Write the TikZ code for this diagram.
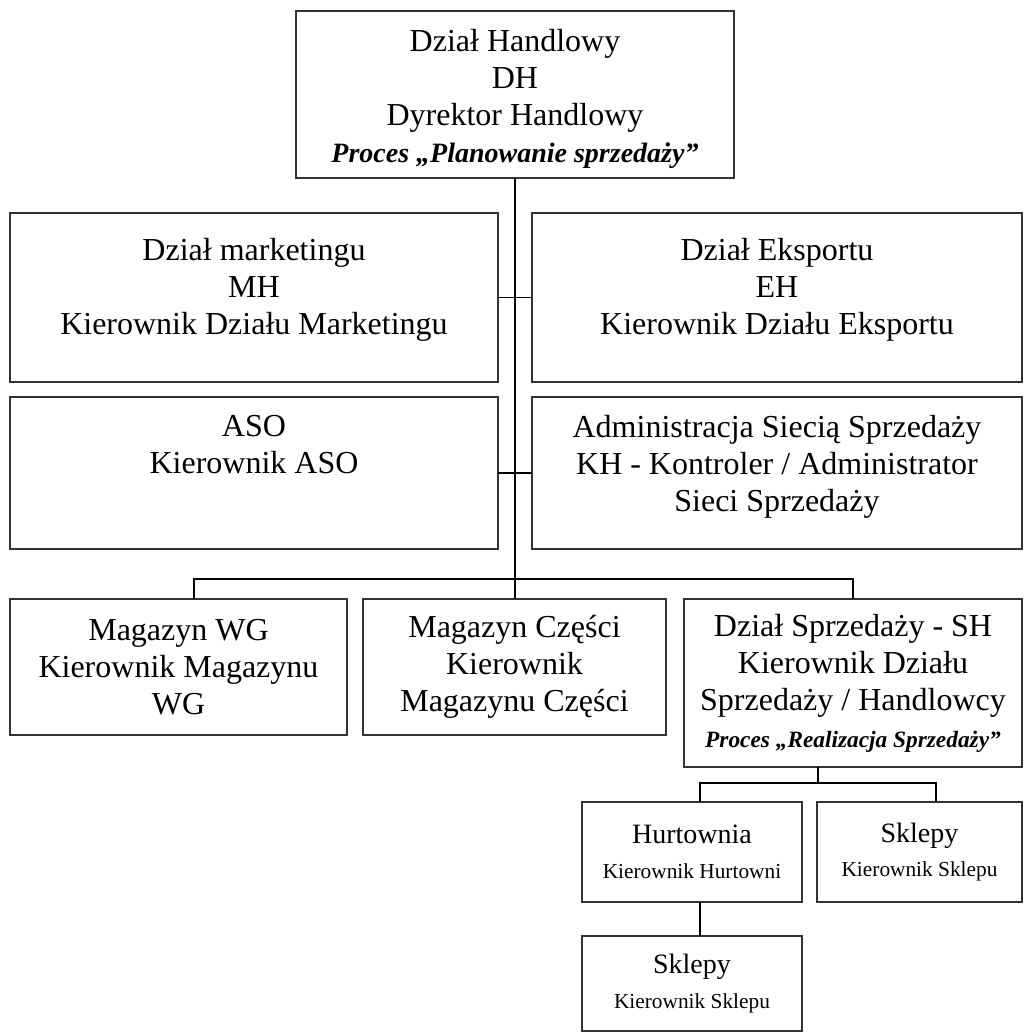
\documentclass[tikz,border=0pt]{standalone}
\usepackage{fontspec}
\setmainfont{Liberation Serif}
\usepackage{tikz}
\usetikzlibrary{calc, positioning}
\newcommand\proctext[1]{\bfseries\itshape\fontsize{#1}{27.75}\selectfont}
\newcommand\smalltext{\fontsize{16}{26}\selectfont}

\begin{document}
\begin{tikzpicture}[
node distance= 26.25pt and 25.5pt,
     base/.style = {draw=black!80, line width=1.1pt, align=center,
                    inner sep=0pt, outer sep=0pt,
                    font=\fontsize{24}{27.75}\selectfont},
     unit/.style = {base, minimum width=366pt, minimum height=126.75pt},
      txt/.style = {align=center, inner sep=0pt, outer sep=0pt,
                    font=\fontsize{24}{27.75}\selectfont},
     shop/.style = {base, font=\fontsize{21}{26}\selectfont},
     link/.style = {draw=black, line width=0.9pt}
                    ]
\useasboundingbox (0,0) rectangle (769.5pt,-774pt);
 % main
\node (dh)      [base, minimum width=328.5pt, minimum height=125.25pt]
                at (386.25pt,-70.875pt) {};
\node (dh-t)    [txt, below=14pt of dh.north]
                {Dział Handlowy\\DH\\Dyrektor Handlowy\\{\proctext{21}Proces „Planowanie sprzedaży”}};
\node (mh)      [unit, below left=26.25pt and 12.75pt of dh.south] {};
\node (eh)      [unit, minimum width=367.5pt, right=25.5pt of mh] {};
\node (mh-t)    [txt, below=19pt of mh.north] {Dział marketingu\\MH\\Kierownik Działu Marketingu};
\node (eh-t)    [txt, below=19pt of eh.north] {Dział Eksportu\\EH\\Kierownik Działu Eksportu};
\node (aso)     [unit, minimum height=114pt, below=11.25pt of mh] {};
\node (kh)      [unit, minimum width=367.5pt, minimum height=114pt, below=11.25pt of eh] {};
\node (aso-t)   [txt, below=14pt of aso.north] {ASO\\Kierownik ASO};
\node (kh-t)    [txt, below=14pt of kh.north] {Administracja Siecią Sprzedaży\\KH - Kontroler / Administrator\\Sieci Sprzedaży};

\node (wg)      [base, minimum width=252.75pt, minimum height=102pt,
                 below right=37.5pt and 0pt of aso.south west] {Magazyn WG\\Kierownik Magazynu\\WG};
\node (czesci)  [base, minimum width=227.25pt, minimum height=102pt, right=12pt of wg]
                {Magazyn Części\\Kierownik\\Magazynu Części};
\node (sh)      [base, minimum width=253.5pt, minimum height=126pt,
                 below right=0pt and 13.5pt of czesci.north east]
                {Dział Sprzedaży - SH\\Kierownik Działu\\Sprzedaży / Handlowcy\\{\proctext{17.5}Proces „Realizacja Sprzedaży”}};

\node (sklepy1) [shop, minimum width=153.75pt, minimum height=75pt,
                 below left=26.25pt and 0pt of sh.south east] {Sklepy\\{\smalltext Kierownik Sklepu}};
\node (hurt)    [shop, minimum width=165pt, minimum height=75pt, left=11.25pt of sklepy1]
                {Hurtownia\\{\smalltext Kierownik Hurtowni}};
\node (sklepy2) [shop, minimum width=165pt, minimum height=71.25pt, below=25.5pt of hurt]
                {Sklepy\\{\smalltext Kierownik Sklepu}};

\coordinate (bus) at ($(dh.south |- czesci.north)+(0,15pt)$);
\coordinate (shdrop) at ([xshift=-26.25pt]sh.south);
\coordinate (bus2) at ($(shdrop |- hurt.north)+(0,14.25pt)$);

\draw[link] (dh.south) -- (dh.south |- czesci.north);
\draw[link] (mh.east) -- (eh.west);
\draw[link] (aso.east) -- (kh.west);
\draw[link] ([xshift=11.6pt]wg.north) |- (bus) -| (sh.north);
\draw[link] (shdrop) -- (bus2);
\draw[link] ([xshift=6pt]hurt.north) |- (bus2) -| ([xshift=12.4pt]sklepy1.north);
\draw[link] ([xshift=6pt]hurt.south) -- ([xshift=6pt]sklepy2.north);
\end{tikzpicture}
\end{document}
